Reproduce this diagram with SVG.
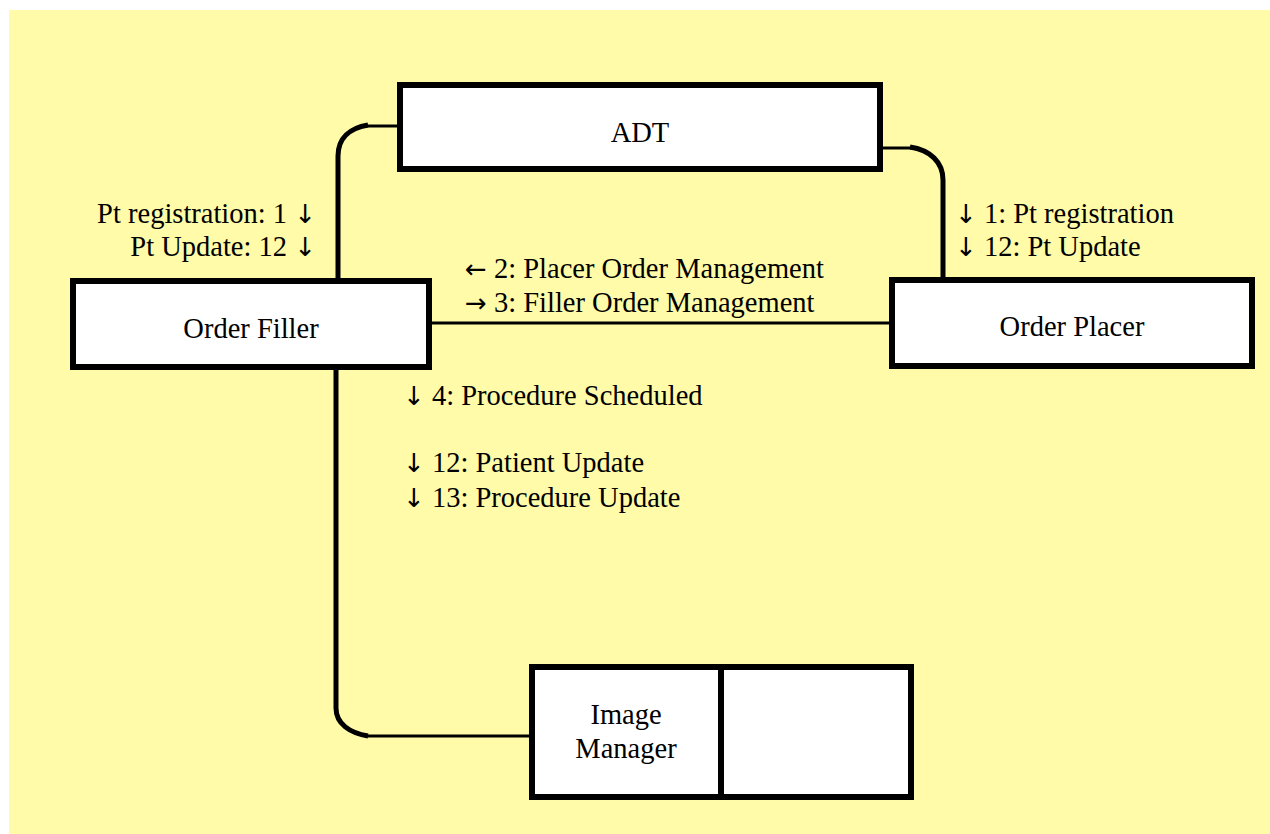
<svg xmlns="http://www.w3.org/2000/svg" width="1270" height="834" viewBox="0 0 1270 834">
<style>
.box{fill:#ffffff;stroke:#000000;stroke-width:6}
.t{font-family:"Liberation Serif","Times New Roman",serif;font-size:28.5px;fill:#000000}
.a{font-family:"DejaVu Sans",sans-serif;font-size:26px;fill:#000000}
.c{text-anchor:middle}
.e{text-anchor:end}
.thin{fill:none;stroke:#000000;stroke-width:3}
.thick{fill:none;stroke:#000000;stroke-width:5}
</style>
<rect x="0" y="0" width="1270" height="834" fill="#ffffff"/>
<rect x="9" y="10" width="1261" height="824" fill="#fffba8"/>
<g id="connectors">
  <path class="thin" d="M398 126 L366 126"/>
  <path class="thick" d="M368 125 C350 128 338 138 338 156 L338 278"/>
  <path class="thin" d="M881 148 L912 148"/>
  <path class="thick" d="M910 147 C930 150 943 162 943 180 L943 277"/>
  <path class="thin" d="M432 323 L889 323"/>
  <path class="thick" d="M336 370 L336 708 C336 724 350 733 368 736"/>
  <path class="thin" d="M366 736 L530 736"/>
  <text class="t e" x="316" y="223">Pt registration: 1 <tspan class="a">↓</tspan></text>
  <text class="t e" x="316" y="256">Pt Update: 12 <tspan class="a">↓</tspan></text>
  <text class="t" x="955" y="223"><tspan class="a">↓</tspan> 1: Pt registration</text>
  <text class="t" x="955" y="256"><tspan class="a">↓</tspan> 12: Pt Update</text>
  <text class="t" x="465" y="278"><tspan class="a">←</tspan> 2: Placer Order Management</text>
  <text class="t" x="465" y="312"><tspan class="a">→</tspan> 3: Filler Order Management</text>
  <text class="t" x="403" y="405"><tspan class="a">↓</tspan> 4: Procedure Scheduled</text>
  <text class="t" x="403" y="472"><tspan class="a">↓</tspan> 12: Patient Update</text>
  <text class="t" x="403" y="507"><tspan class="a">↓</tspan> 13: Procedure Update</text>
</g>
<g id="adt">
  <rect class="box" x="400" y="85" width="480" height="84"/>
  <text class="t c" x="640" y="142">ADT</text>
</g>
<g id="order-filler">
  <rect class="box" x="73" y="281" width="356" height="86"/>
  <text class="t c" x="251" y="338">Order Filler</text>
</g>
<g id="order-placer">
  <rect class="box" x="892" y="280" width="360" height="86"/>
  <text class="t c" x="1072" y="336">Order Placer</text>
</g>
<g id="image-manager">
  <rect class="box" x="532" y="667" width="379" height="130"/>
  <line x1="721" y1="667" x2="721" y2="797" stroke="#000000" stroke-width="6"/>
  <text class="t c" x="626" y="724">Image</text>
  <text class="t c" x="626" y="758">Manager</text>
</g>
</svg>
